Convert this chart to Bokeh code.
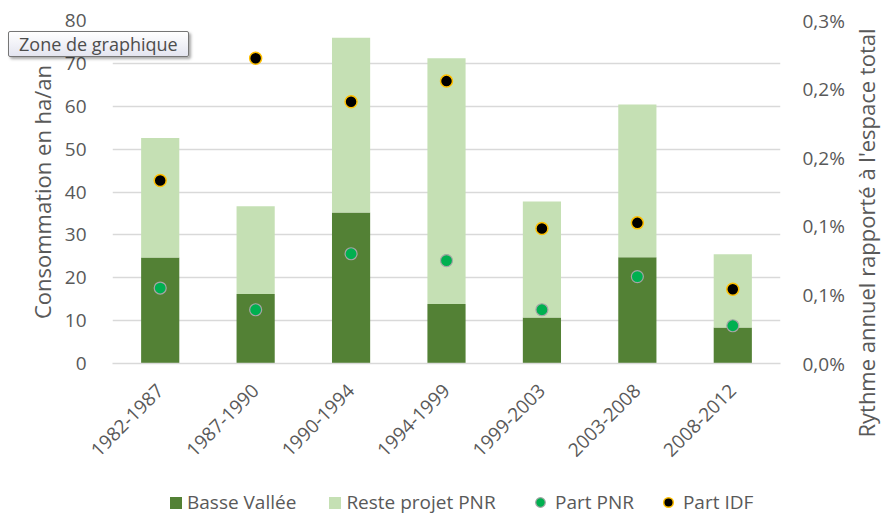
import math
from bokeh.plotting import figure
from bokeh.layouts import column
from bokeh.models import (FactorRange, Range1d, LinearAxis, FixedTicker, CustomJSTickFormatter,
                          Legend, LegendItem, Div, ColumnDataSource)
from bokeh.embed import file_html
from bokeh.resources import INLINE

categories = ["1982-1987", "1987-1990", "1990-1994", "1994-1999", "1999-2003", "2003-2008", "2008-2012"]
basse_vallee = [24.7, 16.2, 35.2, 13.9, 10.7, 24.8, 8.4]
reste_pnr = [27.9, 20.5, 40.8, 57.3, 27.1, 35.6, 17.1]
part_pnr = [0.066, 0.047, 0.096, 0.090, 0.047, 0.076, 0.033]
part_idf = [0.160, 0.267, 0.229, 0.247, 0.118, 0.123, 0.065]
left_ticks = [0, 10, 20, 30, 40, 50, 60, 70, 80]
right_ticks = [0, 0.06, 0.12, 0.18, 0.24, 0.30]
series_names = ["Basse Vallée", "Reste projet PNR", "Part PNR", "Part IDF"]

FONT = "Open Sans"
GREY = "#595959"
DARK = "#538135"
LIGHT = "#c5e0b4"
PNR_FILL, PNR_LINE = "#00b050", "#a5a5a5"
IDF_FILL, IDF_LINE = "black", "#ffc000"

source = ColumnDataSource(data={"cat": categories, "bv": basse_vallee, "rp": reste_pnr,
                                "pnr": part_pnr, "idf": part_idf})

p = figure(x_range=FactorRange(*categories, range_padding=0), y_range=Range1d(0, 80),
           width=881, height=470, output_backend="svg", toolbar_location=None,
           min_border_left=112, min_border_right=101, min_border_top=20, min_border_bottom=107)
p.extra_y_ranges = {"pct": Range1d(0, 0.30)}
p.outline_line_color = None
p.background_fill_color = "white"
p.border_fill_color = "white"

p.vbar_stack(["bv", "rp"], x="cat", width=0.4, color=[DARK, LIGHT], source=source, line_color=None)
p.scatter(x="cat", y="pnr", source=source, y_range_name="pct", size=12,
          fill_color=PNR_FILL, line_color=PNR_LINE, line_width=1.2)
p.scatter(x="cat", y="idf", source=source, y_range_name="pct", size=12,
          fill_color=IDF_FILL, line_color=IDF_LINE, line_width=1.5)

# left axis
ya = p.yaxis[0]
ya.ticker = FixedTicker(ticks=left_ticks)
ya.axis_label = "Consommation en ha/an"
ya.axis_line_color = None
ya.major_tick_line_color = None
ya.minor_tick_line_color = None
ya.major_label_standoff = 20
ya.axis_label_standoff = 5
ya.major_label_text_font = FONT
ya.major_label_text_font_size = "19px"
ya.major_label_text_color = GREY
ya.axis_label_text_font = FONT
ya.axis_label_text_font_size = "22px"
ya.axis_label_text_font_style = "normal"
ya.axis_label_text_color = GREY

# right axis (title drawn separately so that it reads bottom-to-top)
ra = LinearAxis(y_range_name="pct", ticker=FixedTicker(ticks=right_ticks),
                formatter=CustomJSTickFormatter(code="return tick.toFixed(1).replace('.', ',') + '%';"))
ra.axis_line_color = None
ra.major_tick_line_color = None
ra.minor_tick_line_color = None
ra.major_label_standoff = 16
ra.major_label_text_font = FONT
ra.major_label_text_font_size = "19px"
ra.major_label_text_color = GREY
p.add_layout(ra, "right")

# x axis
xa = p.xaxis[0]
xa.axis_line_color = "#d9d9d9"
xa.axis_line_width = 1.3
xa.major_tick_line_color = None
xa.minor_tick_line_color = None
xa.major_label_orientation = math.pi / 4
xa.major_label_standoff = 18
xa.major_label_text_font = FONT
xa.major_label_text_font_size = "19px"
xa.major_label_text_color = GREY

p.xgrid.grid_line_color = None
p.ygrid.grid_line_color = "#d9d9d9"
p.ygrid.grid_line_width = 1.3

right_title = Div(text="Rythme annuel rapporté à l'espace total", styles={
    "position": "absolute", "left": "646px", "top": "220px", "width": "440px",
    "height": "26px", "line-height": "26px", "text-align": "center",
    "transform": "rotate(-90deg)", "transform-origin": "50% 50%",
    "font-family": "'Open Sans'", "font-size": "22px", "color": GREY,
    "white-space": "nowrap", "z-index": "5",
})
tip = Div(text="Zone de graphique", styles={
    "position": "absolute", "left": "8px", "top": "31px", "z-index": "10",
    "font-family": "'Open Sans'", "font-size": "18px", "line-height": "24px",
    "color": "#4d4d4d", "padding": "0px 10px",
    "background": "linear-gradient(#ffffff, #e4e5f0)",
    "border": "1px solid #767676", "border-radius": "2px",
    "box-shadow": "2px 2px 3px rgba(0,0,0,0.35)", "white-space": "nowrap",
})
p.elements.append(right_title)
p.elements.append(tip)

# legend strip below the chart (renderers hidden, used only for legend swatches)
lf = figure(x_range=FactorRange(*categories), width=881, height=45, output_backend="svg",
            toolbar_location=None, x_axis_type=None, y_axis_type=None,
            min_border_left=112, min_border_right=101, min_border_top=0, min_border_bottom=0)
lf.outline_line_color = None
lf.xgrid.visible = False
lf.ygrid.visible = False
lbars = lf.vbar_stack(["bv", "rp"], x="cat", width=0.4, color=[DARK, LIGHT], source=source,
                      line_color=None, visible=False)
lp = lf.scatter(x="cat", y="pnr", source=source, size=11, fill_color=PNR_FILL,
                line_color=PNR_LINE, line_width=1.2, visible=False)
li = lf.scatter(x="cat", y="idf", source=source, size=11, fill_color=IDF_FILL,
                line_color=IDF_LINE, line_width=1.5, visible=False)


def style_legend(lg, glyph, standoff, spacing):
    lg.border_line_color = None
    lg.background_fill_alpha = 0
    lg.inactive_fill_alpha = 0
    lg.click_policy = "none"
    lg.label_text_font = FONT
    lg.label_text_font_size = "19px"
    lg.label_text_color = GREY
    lg.label_height = 24
    lg.glyph_width = glyph
    lg.glyph_height = glyph
    lg.label_standoff = standoff
    lg.spacing = spacing
    lg.padding = 0
    lg.margin = 0


legend_bars = Legend(items=[LegendItem(label=series_names[0], renderers=[lbars[0]]),
                            LegendItem(label=series_names[1], renderers=[lbars[1]])],
                     orientation="horizontal", location=(56, 0))
style_legend(legend_bars, 15, 4, 31)
legend_pts = Legend(items=[LegendItem(label=series_names[2], renderers=[lp]),
                           LegendItem(label=series_names[3], renderers=[li])],
                    orientation="horizontal", location=(416, 0))
style_legend(legend_pts, 24, 3, 22)
lf.add_layout(legend_bars)
lf.add_layout(legend_pts)

layout = column(p, lf, spacing=0)
open("out.html", "w").write(file_html(layout, INLINE))
